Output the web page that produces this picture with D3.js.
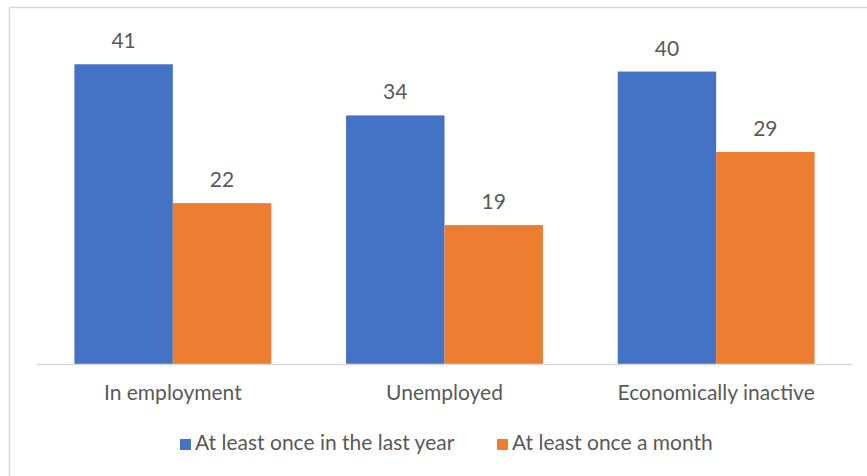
<!DOCTYPE html>
<html>
<head>
<style>
  body { margin: 0; background: #fff; }
  text { font-family: Lato, "Open Sans", sans-serif; fill: #595959; }
</style>
<script src="https://cdnjs.cloudflare.com/ajax/libs/d3/7.8.5/d3.min.js"></script>
</head>
<body>
<script>
const categories = ["In employment", "Unemployed", "Economically inactive"];
const seriesNames = ["At least once in the last year", "At least once a month"];
const lastYear = [41, 34, 40];
const perMonth = [22, 19, 29];
const colors = ["#4472C4", "#ED7D31"];

const width = 867, height = 476;
const fontSize = "21px";
const svg = d3.select("body").append("svg")
  .attr("width", width).attr("height", height);

// chart frame (only top and left edges show)
svg.append("line").attr("x1", 9.5).attr("x2", width).attr("y1", 7.5).attr("y2", 7.5)
  .attr("stroke", "#d9d9d9").attr("stroke-width", 1.5);
svg.append("line").attr("x1", 9.5).attr("x2", 9.5).attr("y1", 7.5).attr("y2", height)
  .attr("stroke", "#d9d9d9").attr("stroke-width", 1.5);

const x = d3.scaleBand().domain(categories).range([37, 852]);
const inner = d3.scaleBand().domain([0, 1]).range([0, x.bandwidth()]).paddingInner(0).paddingOuter(0.38);
const y = d3.scaleLinear().domain([0, 45]).range([364, 35]);

const rows = categories.map((c, i) => ({ cat: c, vals: [lastYear[i], perMonth[i]] }));

const g = svg.selectAll("g.cat").data(rows).enter().append("g")
  .attr("transform", d => `translate(${x(d.cat)},0)`);

g.selectAll("rect").data(d => d.vals).enter().append("rect")
  .attr("x", (d, i) => inner(i))
  .attr("width", inner.bandwidth())
  .attr("y", d => y(d))
  .attr("height", d => y(0) - y(d))
  .attr("fill", (d, i) => colors[i]);

g.selectAll("text.val").data(d => d.vals).enter().append("text")
  .attr("class", "val")
  .attr("x", (d, i) => inner(i) + inner.bandwidth() / 2)
  .attr("y", d => y(d) - 16)
  .attr("text-anchor", "middle")
  .style("font-size", fontSize)
  .text(d => d);

// baseline
svg.append("line").attr("x1", 37).attr("x2", 852).attr("y1", 364.5).attr("y2", 364.5)
  .attr("stroke", "#d9d9d9").attr("stroke-width", 1.5);

svg.selectAll("text.cat").data(categories).enter().append("text")
  .attr("class", "cat")
  .attr("x", d => x(d) + x.bandwidth() / 2)
  .attr("y", 400)
  .attr("text-anchor", "middle")
  .style("font-size", fontSize)
  .text(d => d);

// legend
const legendX = [180, 497];
const lg = svg.selectAll("g.legend").data(seriesNames).enter().append("g")
  .attr("transform", (d, i) => `translate(${legendX[i]},439)`);
lg.append("rect").attr("width", 11).attr("height", 11).attr("fill", (d, i) => colors[i]);
lg.append("text").attr("x", 15).attr("y", 11).style("font-size", fontSize).text(d => d);
</script>
</body>
</html>
